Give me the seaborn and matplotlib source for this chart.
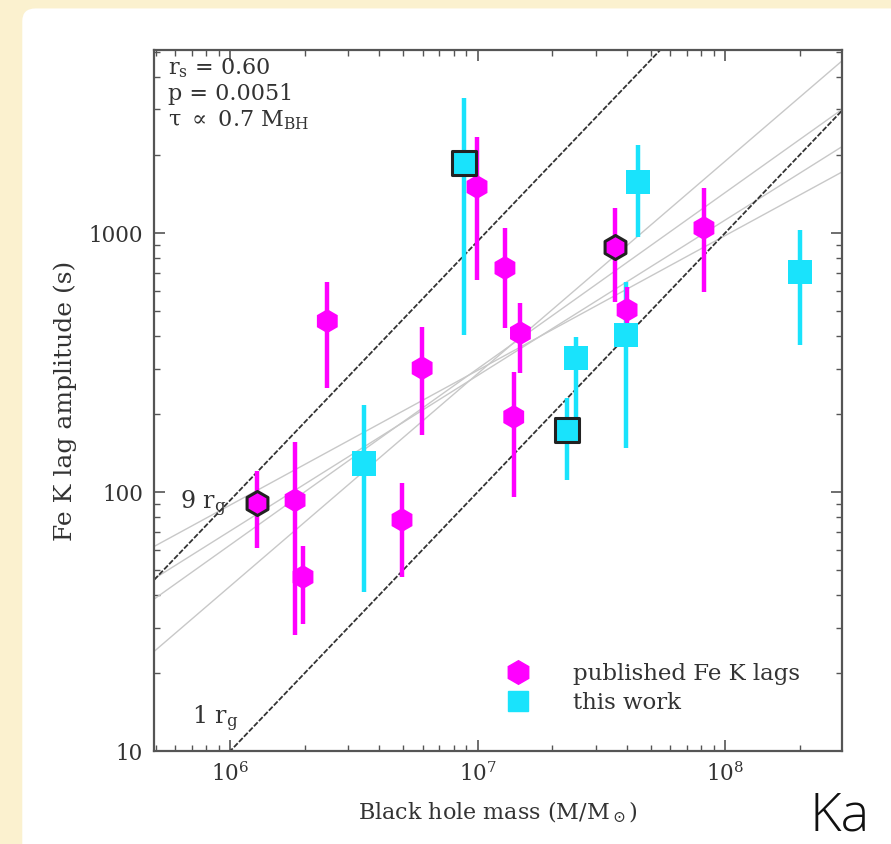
import numpy as np
import pandas as pd
import matplotlib
matplotlib.use("Agg")
import matplotlib.pyplot as plt
from matplotlib.patches import FancyBboxPatch
from matplotlib.lines import Line2D
import seaborn as sns

# published Fe K lags (magenta hexagons)
pub_mass = [1.28e6, 1.83e6, 1.97e6, 2.47e6, 4.95e6, 5.97e6, 9.95e6, 1.29e7, 1.49e7, 1.40e7, 3.60e7, 4.02e7, 8.22e7]
pub_lag = [91, 93, 47, 457, 78, 301, 1507, 733, 411, 195, 883, 505, 1046]
pub_lo = [61, 28, 31, 252, 47, 166, 659, 430, 288, 96, 542, 386, 592]
pub_hi = [121, 156, 62, 647, 108, 433, 2350, 1045, 537, 290, 1250, 619, 1493]
pub_edge = [True, False, False, False, False, False, False, False, False, False, True, False, False]

# this work (cyan squares)
new_mass = [8.81e6, 3.47e6, 2.30e7, 2.50e7, 3.98e7, 4.45e7, 2.01e8]
new_lag = [1862, 129, 173, 329, 404, 1574, 707]
new_lo = [404, 41, 111, 195, 148, 966, 370]
new_hi = [3320, 217, 231, 397, 647, 2189, 1028]
new_edge = [True, False, True, False, False, False, False]

# gravitational radius lines: lag = coeff * M
rg_labels = ["9 r$_\\mathrm{g}$", "1 r$_\\mathrm{g}$"]
rg_coeff = [9.3e-5, 1.0e-5]

# grey fit lines: log lag = slope * (log M - 7) + norm
fit_slope = [0.52, 0.60, 0.68, 0.82]
fit_norm = [2.47, 2.45, 2.476, 2.457]

stats_text = ["r$_\\mathrm{s}$ = 0.60", "p = 0.0051", "τ $\\propto$ 0.7 M$_\\mathrm{BH}$"]

MAGENTA = "#ff00ff"
CYAN = "#19e3fc"
TXT = "#333333"

sns.set_style("ticks")
plt.rcParams["font.family"] = ["DejaVu Serif"]
plt.rcParams["mathtext.fontset"] = "dejavuserif"

fig = plt.figure(figsize=(8.91, 8.44), dpi=100, facecolor="#fbf1cf")
panel = FancyBboxPatch((0.025, -0.05), 1.2, 1.04, boxstyle="round,pad=0,rounding_size=0.015",
                       transform=fig.transFigure, facecolor="white", edgecolor="none", zorder=-5)
fig.patches.append(panel)

ax = fig.add_axes([0.173, 0.110, 0.772, 0.831])
ax.set_facecolor("white")
ax.set_xscale("log")
ax.set_yscale("log")
xlim = (4.93e5, 2.97e8)
ylim = (10, 5100)

xs = np.logspace(np.log10(xlim[0]), np.log10(xlim[1]), 50)
for s, n in zip(fit_slope, fit_norm):
    ax.plot(xs, 10 ** (s * (np.log10(xs) - 7) + n), color="#c8c8c8", lw=1.0, zorder=1)
for c in rg_coeff:
    ax.plot(xs, c * xs, color="#333333", lw=1.3, ls=(0, (3, 1)), zorder=2)

pub = pd.DataFrame({"mass": pub_mass, "lag": pub_lag, "lo": pub_lo, "hi": pub_hi, "edge": pub_edge})
new = pd.DataFrame({"mass": new_mass, "lag": new_lag, "lo": new_lo, "hi": new_hi, "edge": new_edge})

for df, col in [(new, CYAN), (pub, MAGENTA)]:
    ax.vlines(df["mass"], df["lo"], df["hi"], color=col, lw=3.2, zorder=3)

for df, col, mk in [(new, CYAN, "s"), (pub, MAGENTA, "h")]:
    plain = df[~df["edge"]]
    framed = df[df["edge"]]
    sns.scatterplot(data=plain, x="mass", y="lag", marker=mk, s=300, color=col,
                    edgecolor="none", linewidth=0, ax=ax, zorder=4, legend=False)
    sns.scatterplot(data=framed, x="mass", y="lag", marker=mk, s=300, color=col,
                    edgecolor="#222222", linewidth=2.2, ax=ax, zorder=5, legend=False)

ax.set_xlim(*xlim)
ax.set_ylim(*ylim)
ax.set_xlabel("Black hole mass (M/M$_\\odot$)", fontsize=16, color=TXT, labelpad=10)
ax.set_ylabel("Fe K lag amplitude (s)", fontsize=18, color=TXT, labelpad=8)
ax.set_yticks([10, 100, 1000])
ax.set_yticklabels(["10", "100", "1000"])
ax.set_xticks([1e6, 1e7, 1e8])
ax.set_xticklabels(["10$^6$", "10$^7$", "10$^8$"])
ax.tick_params(which="both", direction="in", top=True, right=True, colors="#555555",
               labelcolor=TXT, labelsize=15.5)
ax.tick_params(which="major", length=8, width=1.2, pad=8)
ax.tick_params(which="minor", length=4, width=1.0)
for sp in ax.spines.values():
    sp.set_color("#555555")
    sp.set_linewidth(1.6)

for i, t in enumerate(stats_text):
    ax.text(0.02, 0.99 - i * 0.037, t, transform=ax.transAxes, fontsize=16, color=TXT,
            va="top", ha="left")
ax.text(0.038, 0.345, rg_labels[0], transform=ax.transAxes, fontsize=17, color=TXT)
ax.text(0.055, 0.038, rg_labels[1], transform=ax.transAxes, fontsize=17, color=TXT)

handles = [Line2D([], [], marker="h", color=MAGENTA, ls="none", markersize=17),
           Line2D([], [], marker="s", color=CYAN, ls="none", markersize=15)]
ax.legend(handles, ["published Fe K lags", "this work"], loc="upper left",
          bbox_to_anchor=(0.496, 0.126), frameon=False, fontsize=16.5, handlelength=2,
          handletextpad=1.4, labelspacing=0.3, borderpad=0, borderaxespad=0, labelcolor=TXT)

fig.text(0.909, 0.001, "Ka", fontsize=39, family=["Open Sans", "DejaVu Sans"], weight="light",
         color="#111111", ha="left", va="bottom")

fig.savefig("out.png", dpi=100, facecolor=fig.get_facecolor())
